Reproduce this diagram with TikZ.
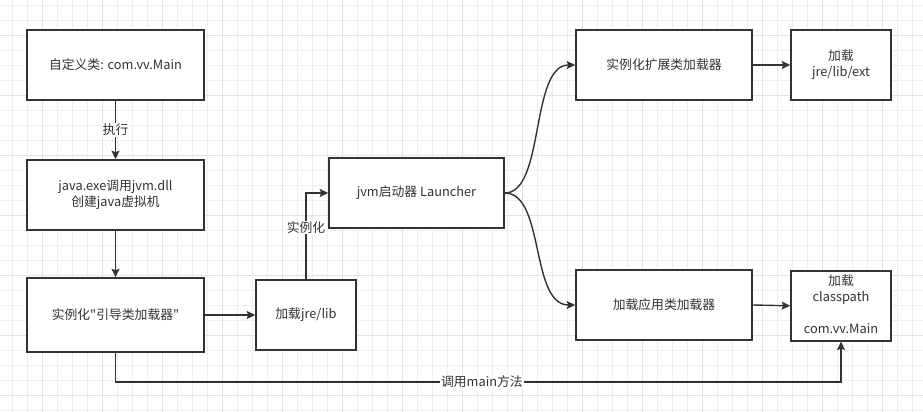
\documentclass[tikz,border=0pt]{standalone}
\usepackage{fontspec}
\setmainfont{Noto Sans CJK SC}[Ligatures=TeXOff]
\usetikzlibrary{arrows.meta}
\definecolor{ink}{HTML}{333333}
\definecolor{gridminor}{HTML}{EFEFEF}
\definecolor{gridmajor}{HTML}{E2E2E2}
\begin{document}
\begin{tikzpicture}[x=1pt,y=-1pt,
  box/.style={draw=ink,line width=1.6pt,fill=white,inner sep=0pt,align=center,text=ink,font=\fontsize{12.8}{16}\selectfont},
  conn/.style={draw=ink,line width=1.4pt,-{Stealth[length=8.5pt,width=8pt,inset=1.5pt]}},
  lbl/.style={fill=white,inner sep=1pt,text=ink,font=\fontsize{12.8}{14}\selectfont}]
\useasboundingbox (0,0) rectangle (923,412);
\fill[white] (0,0) rectangle (923,412);
% grid
\foreach \x in {12.5,27.5,...,923}{\draw[gridminor,line width=0.8pt] (\x,0) -- (\x,412);}
\foreach \y in {5,20,...,412}{\draw[gridminor,line width=0.8pt] (0,\y) -- (923,\y);}
\foreach \x in {42.5,102.5,...,923}{\draw[gridmajor,line width=0.8pt] (\x,0) -- (\x,412);}
\foreach \y in {35,95,...,412}{\draw[gridmajor,line width=0.8pt] (0,\y) -- (923,\y);}
% nodes
\node[box,minimum width=177pt,minimum height=70pt] (a) at (115.5,65) {自定义类: com.vv.Main};
\node[box,minimum width=177pt,minimum height=70pt] (b) at (115.5,195) {java.exe调用jvm.dll\\创建java虚拟机};
\node[box,minimum width=177pt,minimum height=74pt] (c) at (115.5,315) {实例化"引导类加载器"};
\node[box,minimum width=100pt,minimum height=70pt] (d) at (306,315) {加载jre/lib};
\node[box,minimum width=175pt,minimum height=70pt] (e) at (416.5,193) {jvm启动器 Launcher};
\node[box,minimum width=176pt,minimum height=70pt] (f) at (664,65) {实例化扩展类加载器};
\node[box,minimum width=100pt,minimum height=70pt] (g) at (841,65) {加载\\jre/lib/ext};
\node[box,minimum width=176pt,minimum height=70pt] (h) at (664,305) {加载应用类加载器};
\node[box,minimum width=100pt,minimum height=70pt,anchor=north] (i) at (841,270) {};
\node[text=ink,font=\fontsize{12.8}{16}\selectfont,align=center,anchor=north,inner sep=0pt] (it) at (841,275) {加载\\classpath\\\strut\\com.vv.Main};
% connectors
\draw[conn] (a.south) -- node[lbl] {执行} (b.north);
\draw[conn] (b.south) -- (c.north);
\draw[conn] (c.east) -- (d.west);
\coordinate (dk) at (d.north |- e.west);
\draw[conn] (d.north) -- node[lbl,pos=0.6] {实例化} (dk) -- (e.west);
\draw[conn] (e.east) .. controls (545,193) and (530,65) .. (f.west);
\draw[conn] (e.east) .. controls (545,193) and (530,305) .. (h.west);
\draw[conn] (f.east) -- (g.west);
\draw[conn] (h.east) -- (i.west);
\coordinate (c1) at (c.south |- 0,382);
\coordinate (c2) at (i.south |- 0,382);
\draw[conn] (c.south) -- (c1) -- node[lbl,pos=0.505] {调用main方法} (c2) -- (i.south);
\end{tikzpicture}
\end{document}
